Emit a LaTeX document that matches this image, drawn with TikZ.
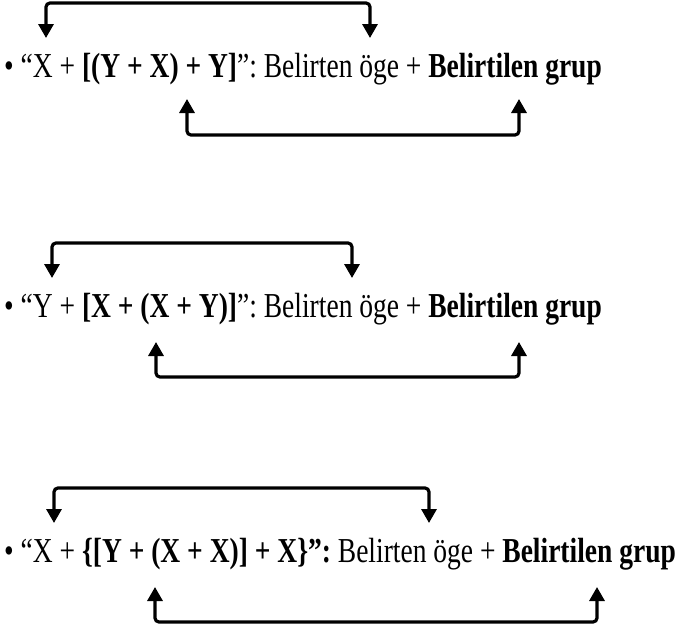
\documentclass[tikz,border=0pt]{standalone}
\usepackage{fontspec}
\setmainfont{Liberation Serif}
\usetikzlibrary{positioning, arrows.meta}

\newcommand{\squeeze}[1]{\scalebox{0.786}[1]{#1}}

\begin{document}
\begin{tikzpicture}[x=1pt, y=-1pt,
  sentence/.style={inner sep=0pt, anchor=base west, font=\fontsize{35}{40}\selectfont},
  arrow/.style={{Triangle[width=15pt,length=14pt]}-{Triangle[width=15pt,length=14pt]},
    line width=3.2pt, rounded corners=4pt}
]
\useasboundingbox (0,0) rectangle (678,632);

\node[sentence] (sent1) at (4,77)
  {\squeeze{• “X + \textbf{[(Y + X) + Y]}”: Belirten öge + \textbf{Belirtilen grup}}};
\node[sentence] (sent2) at (4,317)
  {\squeeze{• “Y + \textbf{[X + (X + Y)]}”: Belirten öge + \textbf{Belirtilen grup}}};
\node[sentence] (sent3) at (4,562)
  {\squeeze{• “X + \textbf{\{[Y + (X + X)] + X\}”:} Belirten öge + \textbf{Belirtilen grup}}};

\coordinate (x1) at (46,38);
\coordinate (oge1) at (370,38);
\coordinate (grp1) at (187,99);
\coordinate (grup1) at (519,99);
\coordinate (y2) at (52,278);
\coordinate (oge2) at (352,278);
\coordinate (grp2) at (156,342);
\coordinate (grup2) at (519,342);
\coordinate (x3) at (54,523);
\coordinate (oge3) at (429,523);
\coordinate (grp3) at (155,587);
\coordinate (grup3) at (597,587);

\draw[arrow] (x1) -- ++(0,-35) -| (oge1);
\draw[arrow] (grp1) -- ++(0,36) -| (grup1);
\draw[arrow] (y2) -- ++(0,-35) -| (oge2);
\draw[arrow] (grp2) -- ++(0,35) -| (grup2);
\draw[arrow] (x3) -- ++(0,-35) -| (oge3);
\draw[arrow] (grp3) -- ++(0,35) -| (grup3);

\end{tikzpicture}
\end{document}
